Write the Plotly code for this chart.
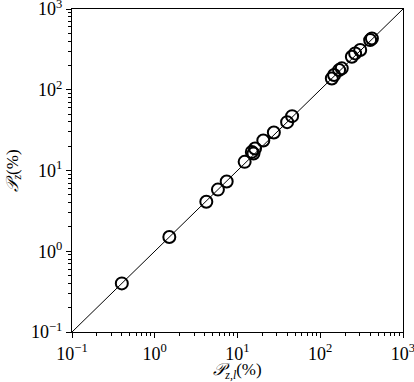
import plotly.graph_objects as go

# measured vs. modelled values (percent)
p_zl = [0.4, 1.5, 4.2, 5.8, 7.4, 12.2, 14.9, 15.6, 16.3, 20.5, 27.5, 39.8, 45.7,
        138, 147, 169, 182, 241, 264, 304, 401, 421]
p_z = [0.4, 1.5, 4.1, 5.8, 7.3, 12.8, 17.0, 16.2, 18.7, 23.5, 29.5, 39.7, 47.1,
       138, 152, 175, 184, 256, 282, 310, 412, 432]
diag = [0.1, 1000]

decades = [0.1, 1, 10, 100, 1000]
tick_text = ["10<sup>−1</sup>", "10<sup>0</sup>", "10<sup>1</sup>", "10<sup>2</sup>", "10<sup>3</sup>"]

_TEXT = "#000000"
_FONT = "Liberation Serif"

minor_vals = [m * d for d in decades[:-1] for m in range(2, 10)]

fig = go.Figure()
fig.add_trace(go.Scatter(
    x=diag, y=diag, mode="lines",
    line=dict(color="black", width=1),
    hoverinfo="none", showlegend=False,
))
fig.add_trace(go.Scatter(
    x=p_zl, y=p_z, mode="markers",
    marker=dict(symbol="circle-open", size=12, color="black", line=dict(width=2, color="black")),
    showlegend=False,
))

axis_common = dict(
    type="log",
    range=[-1, 3.000001],
    tickvals=decades,
    ticktext=tick_text,
    ticks="outside",
    ticklen=5,
    tickwidth=1,
    tickcolor="black",
    minor=dict(ticks="outside", ticklen=3, tickwidth=1, tickcolor="black", tickvals=minor_vals),
    showgrid=False,
    zeroline=False,
    showline=True,
    linecolor="black",
    linewidth=1,
    mirror=True,
    automargin=False,
    ticklabeloverflow="allow",
    tickfont=dict(family=_FONT, size=18, color=_TEXT),
)

fig.update_layout(
    width=414, height=382,
    paper_bgcolor="white", plot_bgcolor="white",
    font=dict(family=_FONT, color=_TEXT),
    margin=dict(l=72, r=11, t=9, b=50),
    xaxis=dict(**axis_common, title=dict(text="<i>𝒫</i><sub><i>z,l</i></sub>(%)", font=dict(size=17), standoff=4)),
    yaxis=dict(**axis_common, title=dict(text="<i>𝒫</i><sub><i>z</i></sub>(%)", font=dict(size=17), standoff=8)),
)

fig.write_html("out.html", config={"displayModeBar": False},
               post_script="document.body.style.margin='0';")
